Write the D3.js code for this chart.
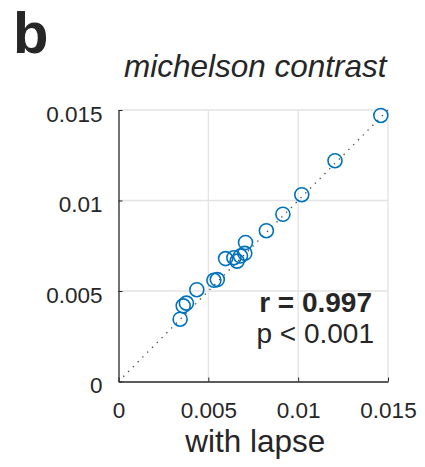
<!DOCTYPE html>
<html>
<head>
<meta charset="utf-8">
<script src="https://cdn.jsdelivr.net/npm/d3@7"></script>
<style>
  body { margin: 0; background: #fff; }
  svg text { font-family: "Liberation Sans", Arial, sans-serif; fill: #262626; }
</style>
</head>
<body>
<div id="vis"></div>
<script>
// threshold estimates: with lapse (x) vs without lapse (y)
var withLapse = [0.01460, 0.01205, 0.01020, 0.00915, 0.00823, 0.00707, 0.00703, 0.00679,
                 0.00642, 0.00596, 0.00660, 0.00550, 0.00531, 0.00436, 0.00378, 0.00360, 0.00343];
var noLapse   = [0.01470, 0.01220, 0.01032, 0.00924, 0.00833, 0.00768, 0.00708, 0.00693,
                 0.00684, 0.00679, 0.00665, 0.00563, 0.00559, 0.00507, 0.00433, 0.00418, 0.00344];
var ticks = [0, 0.005, 0.01, 0.015];
var tickLabels = ['0', '0.005', '0.01', '0.015'];
var unityLine = [0, 0.015];

var width = 425, height = 467;
var margin = {left: 118.5, right: 37, top: 110, bottom: 85.5};
var drawWidth = width - margin.left - margin.right;
var drawHeight = height - margin.top - margin.bottom;

var svg = d3.select('#vis').append('svg')
    .attr('width', width)
    .attr('height', height);

var g = svg.append('g')
    .attr('transform', 'translate(' + margin.left + ',' + margin.top + ')');

var xScale = d3.scaleLinear().domain([0, 0.015]).range([0, drawWidth]);
var yScale = d3.scaleLinear().domain([0, 0.015]).range([drawHeight, 0]);

// grid
g.append('g').selectAll('line').data(ticks.slice(1)).enter().append('line')
    .attr('x1', function(d) { return xScale(d); })
    .attr('x2', function(d) { return xScale(d); })
    .attr('y1', 0).attr('y2', drawHeight)
    .attr('stroke', '#e3e3e3').attr('stroke-width', 1.3);
g.append('g').selectAll('line').data(ticks.slice(1)).enter().append('line')
    .attr('y1', function(d) { return yScale(d); })
    .attr('y2', function(d) { return yScale(d); })
    .attr('x1', 0).attr('x2', drawWidth)
    .attr('stroke', '#e3e3e3').attr('stroke-width', 1.3);

// axes
var xAxis = d3.axisBottom(xScale).tickValues(ticks)
    .tickFormat(function(d, i) { return tickLabels[i]; })
    .tickSizeInner(-4).tickSizeOuter(0).tickPadding(20);
var yAxis = d3.axisLeft(yScale).tickValues(ticks)
    .tickFormat(function(d, i) { return tickLabels[i]; })
    .tickSizeInner(-4).tickSizeOuter(0).tickPadding(16);

var xg = g.append('g').attr('transform', 'translate(0,' + drawHeight + ')').call(xAxis);
var yg = g.append('g').call(yAxis);
[xg, yg].forEach(function(a) {
    a.select('.domain').attr('stroke', '#262626').attr('stroke-width', 1.3);
    a.selectAll('.tick line').attr('stroke', '#262626').attr('stroke-width', 1);
    a.selectAll('.tick text').style('font-size', '22.5px').attr('fill', '#262626');
});
xg.selectAll('.tick text').attr('dy', '0.72em');
yg.selectAll('.tick text').attr('dy', '0.5em');

// unity line
g.append('line')
    .attr('x1', xScale(unityLine[0])).attr('y1', yScale(unityLine[0]))
    .attr('x2', xScale(unityLine[1])).attr('y2', yScale(unityLine[1]))
    .attr('stroke', '#444').attr('stroke-width', 1.3)
    .attr('stroke-dasharray', '1.3,5.5');

// points
g.selectAll('circle').data(withLapse).enter().append('circle')
    .attr('cx', function(d) { return xScale(d); })
    .attr('cy', function(d, i) { return yScale(noLapse[i]); })
    .attr('r', 7)
    .attr('fill', 'none')
    .attr('stroke', '#0072BD')
    .attr('stroke-width', 1.6);

// stats
g.append('text').attr('x', drawWidth - 16).attr('y', 202)
    .attr('text-anchor', 'end').style('font-size', '28px').style('font-weight', 'bold')
    .attr('fill', '#111').text('r = 0.997');
g.append('text').attr('x', drawWidth - 14).attr('y', 233)
    .attr('text-anchor', 'end').style('font-size', '28px')
    .attr('fill', '#111').text('p < 0.001');

// titles
svg.append('text').attr('x', 13).attr('y', 53)
    .style('font-size', '58px').style('font-weight', 'bold')
    .attr('fill', '#000').text('b');
svg.append('text').attr('x', margin.left + drawWidth / 2 + 2).attr('y', 77)
    .attr('text-anchor', 'middle').style('font-size', '31.5px').style('font-style', 'italic')
    .attr('fill', '#111').text('michelson contrast');
svg.append('text').attr('x', margin.left + drawWidth / 2 + 2).attr('y', 452)
    .attr('text-anchor', 'middle').style('font-size', '31.5px')
    .attr('fill', '#111').text('with lapse');
</script>
</body>
</html>
